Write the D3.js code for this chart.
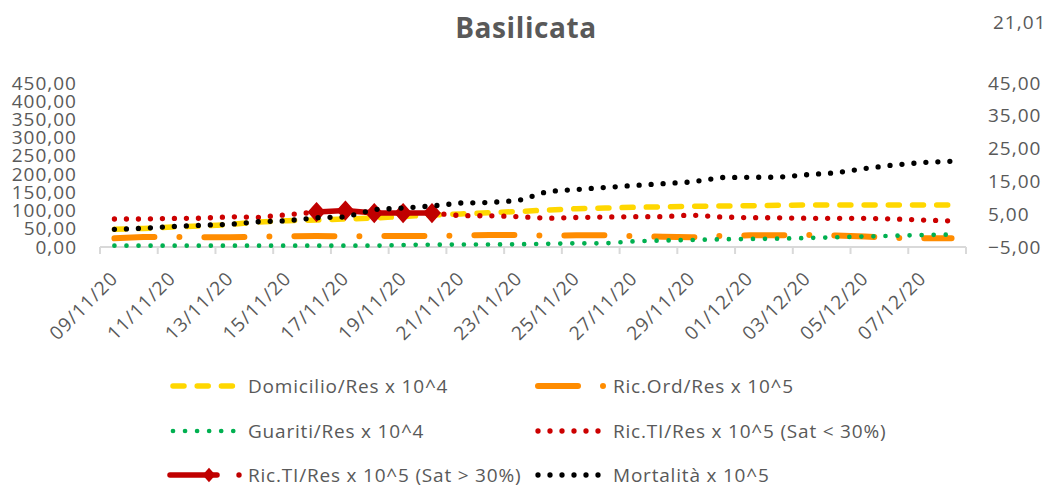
<!DOCTYPE html>
<html>
<head>
<meta charset="utf-8">
<script src="https://cdn.jsdelivr.net/npm/d3@7"></script>
<style>
  body { margin: 0; background: #fff; }
  svg { display: block; font-family: "Open Sans", sans-serif; }
</style>
</head>
<body>
<div id="chart"></div>
<script>
// days shown on the x axis
const dates = ["09/11/20","10/11/20","11/11/20","12/11/20","13/11/20","14/11/20","15/11/20","16/11/20",
  "17/11/20","18/11/20","19/11/20","20/11/20","21/11/20","22/11/20","23/11/20","24/11/20","25/11/20",
  "26/11/20","27/11/20","28/11/20","29/11/20","30/11/20","01/12/20","02/12/20","03/12/20","04/12/20",
  "05/12/20","06/12/20","07/12/20","08/12/20"];

const domicilio = [48.6,50.8,55,57.6,61.7,68.6,72.2,74,76.8,79.6,83.7,87.8,90.6,94.1,97.4,101.5,105.1,107,
  108.9,110.3,111.7,112.5,113.3,114.4,115.3,115.3,115.3,115.3,115.3,115.3];
const ricOrd = [23.9,27.4,28,26.6,26.9,28,29.6,30.2,29.4,30.2,30.2,30.2,31.6,32.9,32.9,31.3,32.1,32.1,30.2,
  28,26.6,30.2,32.1,32.1,32.9,31.6,28.8,25.2,23.9,23.9];
const guariti = [3.6,3.6,3.6,3.6,3.6,3.6,3.6,3.6,3.6,3.6,5.5,6.3,6.9,6.9,7.4,8.8,10.2,10.2,15.6,17.8,19.2,
  21.1,22,23,24.7,26.6,28.8,30.7,32.9,34];
const ricTiLow = [76.8,76.8,78.5,79,82.9,81.5,88.6,96,null,null,null,93,85.9,85.6,83.4,78.8,81,82.3,83.2,
  83.2,87.8,82.3,80.4,80.1,78.8,78.8,78.8,76.8,74.1,71.4];
const ricTiHigh = [null,null,null,null,null,null,null,96,100,93,93,93,null,null,null,null,null,null,null,
  null,null,null,null,null,null,null,null,null,null,null];
const mortalita = [48.6,51.3,56.3,59.6,62.3,69.4,72.2,80.4,82.3,102.9,107,112.5,120.7,122.1,127.6,152.3,
  157.8,163.3,168.8,173.7,178.4,190.7,191.3,191.5,198.4,203.6,215.4,225,231.9,235.2];

const leftTicks = [0,50,100,150,200,250,300,350,400,450];
const rightTicks = [-5,5,15,25,35,45];

const width = 1048, height = 487;
const textColor = "#595959";

const series = [
  { name: "Domicilio/Res x 10^4", values: domicilio, color: "#FFD700", w: 5.5, dash: "11 13.2", col: 0, row: 0 },
  { name: "Ric.Ord/Res x 10^5", values: ricOrd, color: "#FF8C00", w: 6, dash: "40 25 0 25", col: 1, row: 0 },
  { name: "Guariti/Res x 10^4", values: guariti, color: "#00B050", w: 4.7, dash: "0 12.05", col: 0, row: 1 },
  { name: "Ric.TI/Res x 10^5 (Sat < 30%)", values: ricTiLow, color: "#CC0000", w: 5.3, dash: "0 12", col: 1, row: 1 },
  { name: "Ric.TI/Res x 10^5 (Sat > 30%)", values: ricTiHigh, color: "#C00000", w: 5.5, dash: null, marker: true, col: 0, row: 2 },
  { name: "Mortalità x 10^5", values: mortalita, color: "#000000", w: 5.3, dash: "0 12", col: 1, row: 2 }
];

const svg = d3.select("#chart").append("svg")
  .attr("width", width)
  .attr("height", height);

const x = d3.scaleBand().domain(dates).range([100, 966]).padding(0);
const cx = d => x(d) + x.bandwidth() / 2;
const xb = d3.scaleLinear().domain([0, dates.length]).range([100, 966]);
const yL = d3.scaleLinear().domain([0, 450]).range([247, 83]);
const yR = d3.scaleLinear().domain([-5, 45]).range([247, 83]);
const fmt = d => d3.format(".2f")(d).replace(".", ",");

// title
svg.append("text")
  .attr("x", 526).attr("y", 38)
  .attr("text-anchor", "middle")
  .attr("font-size", "28px")
  .attr("font-weight", "bold")
  .attr("fill", textColor)
  .style("letter-spacing", "0.6px")
  .text("Basilicata");

svg.append("text")
  .attr("x", 993).attr("y", 29)
  .attr("font-size", "19px")
  .attr("fill", textColor)
  .style("letter-spacing", "1px")
  .text("21,01");

// y axes
const gl = svg.append("g")
  .attr("transform", "translate(80,0)")
  .call(d3.axisLeft(yL).tickValues(leftTicks).tickSize(0).tickPadding(3).tickFormat(fmt));
const gr = svg.append("g")
  .attr("transform", "translate(985,0)")
  .call(d3.axisRight(yR).tickValues(rightTicks).tickSize(0).tickPadding(3).tickFormat(fmt));
[gl, gr].forEach(g => {
  g.select(".domain").remove();
  g.selectAll("text")
    .attr("fill", textColor)
    .style("font-family", "'Open Sans', sans-serif")
    .style("font-size", "19px")
    .style("letter-spacing", "1px");
});

// category axis
svg.append("line")
  .attr("x1", 100).attr("x2", 966)
  .attr("y1", yL(0)).attr("y2", yL(0))
  .attr("stroke", "#D9D9D9").attr("stroke-width", 2);

svg.selectAll(".xtick")
  .data(d3.range(0, dates.length + 1, 2))
  .enter().append("line")
  .attr("class", "xtick")
  .attr("x1", d => xb(d)).attr("x2", d => xb(d))
  .attr("y1", yL(0)).attr("y2", yL(0) + 7)
  .attr("stroke", "#D9D9D9").attr("stroke-width", 2);

svg.selectAll(".xlabel")
  .data(dates.filter((d, i) => i % 2 == 0))
  .enter().append("text")
  .attr("class", "xlabel")
  .attr("transform", d => `translate(${cx(d)},275) rotate(-45)`)
  .attr("text-anchor", "end")
  .attr("dy", "0.35em")
  .attr("font-size", "19px")
  .attr("fill", textColor)
  .style("letter-spacing", "1px")
  .text(d => d);

// series
const line = d3.line()
  .defined(d => d.v != null)
  .x(d => cx(d.date))
  .y(d => yL(d.v));

const diamond = "M0,-9L8,0L0,9L-8,0Z";

series.forEach(s => {
  const pts = dates.map((d, i) => ({ date: d, v: s.values[i] }));
  svg.append("path")
    .datum(pts)
    .attr("fill", "none")
    .attr("stroke", s.color)
    .attr("stroke-width", s.w)
    .attr("stroke-linecap", "round")
    .attr("stroke-linejoin", "round")
    .attr("stroke-dasharray", s.dash)
    .attr("d", line);
  if (s.marker) {
    svg.selectAll(null)
      .data(pts.filter(p => p.v != null))
      .enter().append("path")
      .attr("d", diamond)
      .attr("transform", p => `translate(${cx(p.date)},${yL(p.v)})`)
      .attr("fill", s.color)
      .attr("stroke", s.color)
      .attr("stroke-width", 1.5);
  }
});

// legend
const legX = [170, 535], legTextX = [248, 613], legY = [386, 431, 475];
series.forEach(s => {
  const gx = legX[s.col], gy = legY[s.row];
  const g = svg.append("g");
  if (s.marker) {
    g.append("line")
      .attr("x1", gx).attr("x2", gx + 47).attr("y1", gy).attr("y2", gy)
      .attr("stroke", s.color).attr("stroke-width", s.w).attr("stroke-linecap", "round");
    g.append("path").attr("d", diamond)
      .attr("transform", `translate(${gx + 39},${gy}) scale(0.8)`)
      .attr("fill", s.color);
    g.append("circle").attr("cx", gx + 69).attr("cy", gy).attr("r", 2.7).attr("fill", s.color);
  } else {
    g.append("line")
      .attr("x1", gx + 3).attr("x2", gx + 70).attr("y1", gy).attr("y2", gy)
      .attr("stroke", s.color)
      .attr("stroke-width", s.w)
      .attr("stroke-linecap", "round")
      .attr("stroke-dasharray", s.dash);
  }
  g.append("text")
    .attr("x", legTextX[s.col]).attr("y", gy)
    .attr("dy", "0.35em")
    .attr("font-size", "19px")
    .attr("fill", textColor)
    .style("letter-spacing", "0.8px")
    .text(s.name);
});
</script>
</body>
</html>
